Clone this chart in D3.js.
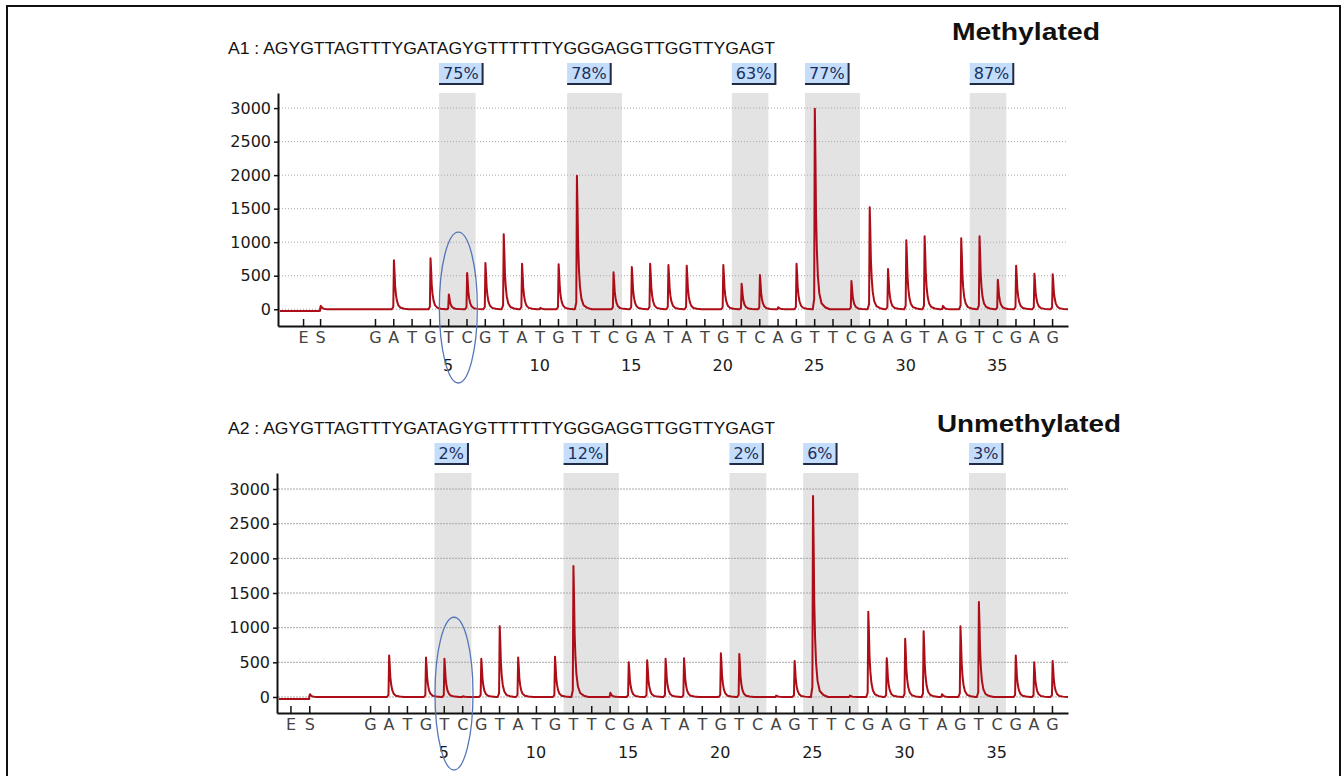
<!DOCTYPE html>
<html>
<head>
<meta charset="utf-8">
<script src="https://cdn.jsdelivr.net/npm/d3@7"></script>
<style>
  html, body { margin: 0; padding: 0; background: #fff; }
  svg { display: block; }
</style>
</head>
<body>
<div id="chart"></div>
<script>
// Data

const dispensations = ['G', 'A', 'T', 'G', 'T', 'C', 'G', 'T', 'A', 'T', 'G', 'T', 'T', 'C', 'G', 'A', 'T', 'A', 'T',
  'G', 'T', 'C', 'A', 'G', 'T', 'T', 'C', 'G', 'A', 'G', 'T', 'A', 'G', 'T', 'C', 'G', 'A', 'G']
const positionLabels = [5, 10, 15, 20, 25, 30, 35]
const yTicks = [0, 500, 1000, 1500, 2000, 2500, 3000]
const sequence = 'AGYGTTAGTTTYGATAGYGTTTTTTYGGGAGGTTGGTTYGAGT'

const cpgSites = [[5, 6], [12, 14], [21, 22], [25, 27], [34, 35]]

const methylatedPeaks = [0, 730, 0, 760, 220, 540, 690, 1120, 680, 20, 670, 1990, 0, 550, 630, 680, 660, 650, 0,
  660, 380, 510, 30, 680, 2990, 0, 420, 1520, 600, 1030, 1090, 50, 1060, 1090, 440, 650, 530, 520]
const methylatedPct = ['75%', '78%', '63%', '77%', '87%']
const methylatedStart = [-25, 50] // baseline before S, S bump

const unmethylatedPeaks = [0, 600, 0, 570, 550, 10, 550, 1020, 570, 0, 580, 1890, 0, 60, 500, 530, 550, 560, 0,
  630, 620, 0, 20, 520, 2900, 0, 20, 1230, 560, 840, 950, 40, 1020, 1370, 0, 600, 500, 520]
const unmethylatedPct = ['2%', '12%', '2%', '6%', '3%']
const unmethylatedStart = [-30, 40]

// Peak profile, offset in dispensation units -> relative height
const KERNEL = [[-0.08, 0], [0, 0.05], [0.035, 1], [0.07, 0.75], [0.1, 0.48], [0.145, 0.3], [0.2, 0.17],
  [0.28, 0.08], [0.4, 0.03], [0.6, 0.01], [0.85, 0]]

const COLORS = {
  trace: '#ac0d16',
  band: '#e3e3e3',
  grid: '#a8a8a8',
  box: '#c3ddfa',
  boxShadow: '#1f2a44',
  boxText: '#1b2f5e',
  ellipse: '#5577b8',
}

const W = 1343
const H = 776

const svg = d3.select('#chart').append('svg').attr('width', W).attr('height', H)

svg.append('rect')
  .attr('x', 7).attr('y', 6).attr('width', 1333).attr('height', 800)
  .attr('fill', 'none').attr('stroke', '#111').attr('stroke-width', 2)

const panels = [
  {
    label: 'A1', title: 'Methylated', titleX: 952, titleY: 40, seqY: 54,
    peaks: methylatedPeaks, pct: methylatedPct, start: methylatedStart,
    xDomain: [-4.3, 38.87], xRange: [278, 1068], yDomain: [-250, 3225], yRange: [326, 93],
    es: [-2.93, -2.0], gridDash: '1,2',
  },
  {
    label: 'A2', title: 'Unmethylated', titleX: 937, titleY: 432, seqY: 434,
    peaks: unmethylatedPeaks, pct: unmethylatedPct, start: unmethylatedStart,
    xDomain: [-4.05, 38.87], xRange: [277, 1068], yDomain: [-231, 3231], yRange: [713, 473],
    es: [-3.32, -2.3], gridDash: '2,1',
  },
]

panels.forEach(p => drawPanel(p))

function kernelAt(dx) {
  if (dx <= KERNEL[0][0] || dx >= KERNEL[KERNEL.length - 1][0]) return 0
  for (let i = 1; i < KERNEL.length; i++) {
    if (dx <= KERNEL[i][0]) {
      const [x0, v0] = KERNEL[i - 1]
      const [x1, v1] = KERNEL[i]
      return v0 + (v1 - v0) * (dx - x0) / (x1 - x0)
    }
  }
  return 0
}

function drawPanel(p) {
  const x = d3.scaleLinear().domain(p.xDomain).range(p.xRange)
  const y = d3.scaleLinear().domain(p.yDomain).range(p.yRange)
  const g = svg.append('g')
  const axisY = p.yRange[0]
  const topY = p.yRange[1]

  // Header

  g.append('text')
    .attr('x', 228).attr('y', p.seqY)
    .attr('font-family', 'Liberation Sans, Arial, sans-serif')
    .attr('font-size', 16.5)
    .attr('fill', '#111')
    .attr('textLength', 547)
    .attr('lengthAdjust', 'spacingAndGlyphs')
    .text(`${p.label} :  ${sequence}`)

  g.append('text')
    .attr('x', p.titleX).attr('y', p.titleY)
    .attr('font-family', 'Liberation Sans, Arial, sans-serif')
    .attr('font-weight', 'bold')
    .attr('font-size', 23)
    .attr('fill', '#111')
    .attr('textLength', p.title === 'Methylated' ? 148 : 184)
    .attr('lengthAdjust', 'spacingAndGlyphs')
    .text(p.title)

  // CpG bands

  g.selectAll('rect.band')
    .data(cpgSites)
    .join('rect')
    .attr('class', 'band')
    .attr('x', d => x(d[0] - 0.5))
    .attr('width', d => x(d[1] + 0.5) - x(d[0] - 0.5))
    .attr('y', topY)
    .attr('height', axisY - topY)
    .attr('fill', COLORS.band)

  // Grid

  g.selectAll('line.grid')
    .data(yTicks)
    .join('line')
    .attr('class', 'grid')
    .attr('x1', p.xRange[0] + 1).attr('x2', p.xRange[1])
    .attr('y1', d => y(d)).attr('y2', d => y(d))
    .attr('stroke', COLORS.grid)
    .attr('stroke-width', 1)
    .attr('stroke-dasharray', p.gridDash)

  // Percentage boxes

  const boxes = g.selectAll('g.pct')
    .data(cpgSites.map((s, i) => ({ s, label: p.pct[i] })))
    .join('g')
    .attr('class', 'pct')
    .attr('transform', d => `translate(${x(d.s[0] - 0.5)},${topY - 30})`)

  boxes.each(function (d) {
    const b = d3.select(this)
    const txt = b.append('text')
      .attr('font-family', 'DejaVu Sans, Verdana, sans-serif')
      .attr('font-size', 16)
      .attr('fill', COLORS.boxText)
      .attr('y', 16)
      .text(d.label)
    const w = txt.node().getComputedTextLength() + 8
    txt.attr('x', 4)
    b.insert('rect', 'text')
      .attr('width', w).attr('height', 21)
      .attr('fill', COLORS.box)
    b.append('path')
      .attr('d', `M${w},0V21H0`)
      .attr('fill', 'none')
      .attr('stroke', COLORS.boxShadow)
      .attr('stroke-width', 2)
  })

  // Trace

  const sources = p.peaks.map((h, i) => ({ at: i + 1, h }))
  sources.push({ at: p.es[1], h: p.start[1] })
  const xs = new Set([p.xDomain[0] + 0.1, p.es[1] - 0.001, p.xDomain[1]])
  sources.forEach(s => KERNEL.forEach(k => xs.add(s.at + k[0])))
  const pts = Array.from(xs)
    .filter(v => v >= p.xDomain[0] && v <= p.xDomain[1])
    .sort((a, b) => a - b)
    .map(v => {
      let val = v < p.es[1] ? p.start[0] : 0
      sources.forEach(s => { val += s.h * kernelAt(v - s.at) })
      return [v, val]
    })

  g.append('path')
    .datum(pts)
    .attr('fill', 'none')
    .attr('stroke', COLORS.trace)
    .attr('stroke-width', 2)
    .attr('stroke-linejoin', 'round')
    .attr('d', d3.line().x(d => x(d[0])).y(d => y(d[1])))

  // Axis & ticks

  const yAxis = g.append('g')
    .attr('transform', `translate(${p.xRange[0]},0)`)
    .call(d3.axisLeft(y).tickValues(yTicks).tickSize(4).tickSizeOuter(0).tickPadding(3)
      .tickFormat(d3.format('d')))
  yAxis.select('.domain').attr('stroke', '#111').attr('stroke-width', 2)
  yAxis.selectAll('.tick line').attr('stroke', '#111').attr('stroke-width', 1.5)
  yAxis.selectAll('.tick text')
    .attr('font-family', 'DejaVu Sans, Verdana, sans-serif')
    .attr('font-size', 16)
    .attr('fill', '#1a1a1a')

  const tickPos = [p.es[0], p.es[1]].concat(dispensations.map((_, i) => i + 1))
  const tickLab = ['E', 'S'].concat(dispensations)
  const xAxis = g.append('g')
    .attr('transform', `translate(0,${axisY})`)
    .call(d3.axisBottom(x).tickValues(tickPos).tickSize(-7).tickSizeOuter(0).tickPadding(6)
      .tickFormat((d, i) => tickLab[i]))
  xAxis.select('.domain').attr('stroke', '#111').attr('stroke-width', 2)
  xAxis.selectAll('.tick line').attr('stroke', '#111').attr('stroke-width', 1.5)
  xAxis.selectAll('.tick text')
    .attr('font-family', 'DejaVu Sans, Verdana, sans-serif')
    .attr('font-size', 16)
    .attr('fill', '#444')

  g.selectAll('text.pos')
    .data(positionLabels)
    .join('text')
    .attr('class', 'pos')
    .attr('x', d => x(d))
    .attr('y', axisY + 45)
    .attr('text-anchor', 'middle')
    .attr('font-family', 'DejaVu Sans, Verdana, sans-serif')
    .attr('font-size', 16)
    .attr('fill', '#1a1a1a')
    .text(d => d)

  // Highlight around dispensation 5-6

  g.append('ellipse')
    .attr('cx', x(5.5) + 1)
    .attr('cy', (y(1150) + axisY + 57) / 2)
    .attr('rx', 19)
    .attr('ry', (axisY + 57 - y(1150)) / 2)
    .attr('fill', 'none')
    .attr('stroke', COLORS.ellipse)
    .attr('stroke-width', 1.3)
}
</script>
</body>
</html>
